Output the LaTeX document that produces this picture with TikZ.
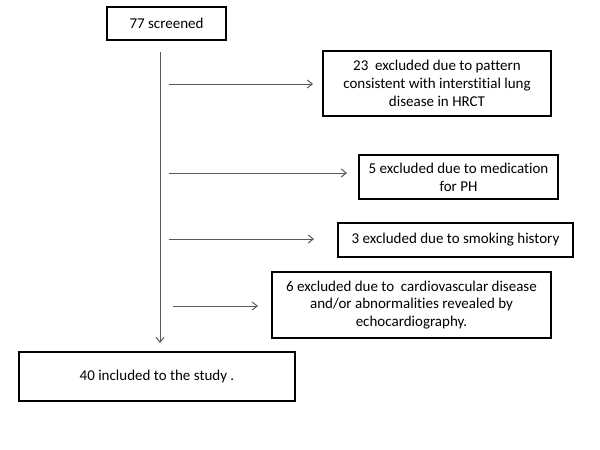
\documentclass[tikz,border=0pt]{standalone}
\usepackage{fontspec}
\setmainfont[Ligatures=NoCommon]{Carlito}
\usetikzlibrary{arrows.meta}
\begin{document}
\begin{tikzpicture}[x=0.5pt,y=-0.5pt,
  box/.style={draw=black,line width=1pt,rectangle,inner sep=0pt,align=center,
    font=\fontsize{7.5}{8.85}\selectfont},
  conn/.style={draw=black!65,line width=0.5pt,-{Straight Barb[length=2.5pt,width=4pt]}}]
\useasboundingbox[fill=white] (0,0) rectangle (600,450);
\node[box,minimum width=59.5pt,minimum height=16.5pt] (s) at (166.5,23.5) {77 screened};
\node[box,minimum width=114pt,minimum height=32.5pt] (e1) at (437,83.5) {23\ \ excluded due to pattern\\consistent with interstitial lung\\disease in HRCT};
\node[box,minimum width=99.5pt,minimum height=22pt] (e2) at (458.5,177) {5 excluded due to medication\\for PH};
\node[box,minimum width=117.5pt,minimum height=17pt] (e3) at (455.5,240) {3 excluded due to smoking history};
\node[box,minimum width=139.5pt,minimum height=33pt] (e4) at (411.5,305) {6 excluded due to\ \ cardiovascular disease\\and/or abnormalities revealed by\\echocardiography.};
\node[box,minimum width=138pt,minimum height=24.5pt] (f) at (157,376.5) {40 included to the study .};
\coordinate (vtop) at (160,52);
\coordinate (vend) at (160,343);
\coordinate (a1s) at (169,84);  \coordinate (a1e) at (313,84);
\coordinate (a2s) at (169,173); \coordinate (a2e) at (347,173);
\coordinate (a3s) at (169,239); \coordinate (a3e) at (314,239);
\coordinate (a4s) at (173,306); \coordinate (a4e) at (258,306);
\draw[conn] (vtop) -- (vend);
\draw[conn] (a1s) -- (a1e);
\draw[conn] (a2s) -- (a2e);
\draw[conn] (a3s) -- (a3e);
\draw[conn] (a4s) -- (a4e);
\end{tikzpicture}
\end{document}
